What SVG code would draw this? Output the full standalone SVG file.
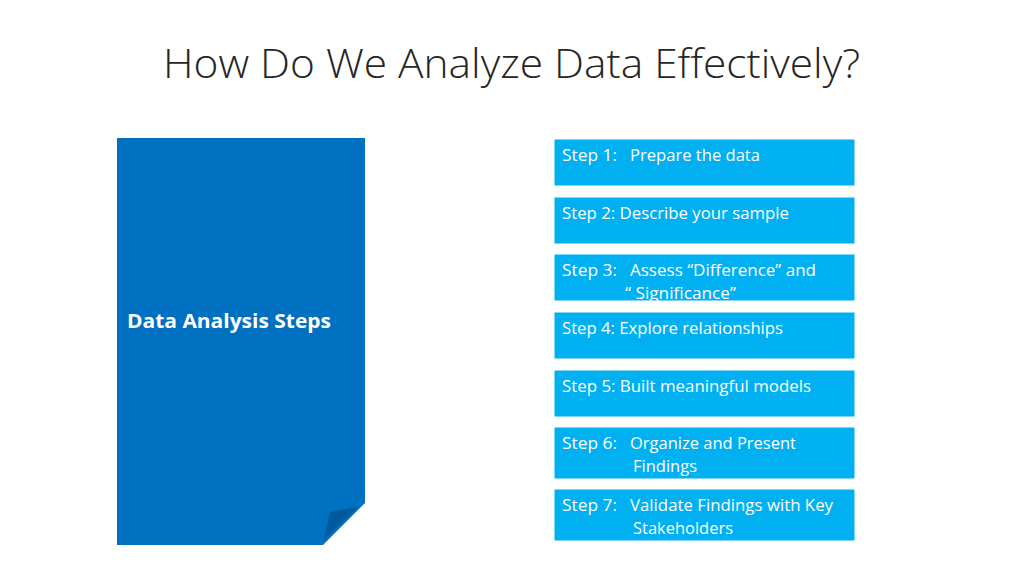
<svg xmlns="http://www.w3.org/2000/svg" width="1024" height="576" viewBox="0 0 1024 576">
<style>
.title{font-family:"Open Sans","Liberation Sans",sans-serif;font-weight:300;font-size:40px;fill:#262626}
.box{fill:#00B0F0;stroke:#ffffff;stroke-width:1}
.st{font-family:"Open Sans","Liberation Sans",sans-serif;font-size:15.5px;fill:#ffffff}
.main{font-family:"Open Sans","Liberation Sans",sans-serif;font-weight:bold;font-size:20px;fill:#ffffff}
</style>
<rect width="1024" height="576" fill="#ffffff"/>
<text class="title" x="163" y="78" textLength="697" lengthAdjust="spacingAndGlyphs">How Do We Analyze Data Effectively?</text>
<g id="main">
<polygon points="117,138 365,138 365,503 323,545 117,545" fill="#0070C0"/>
<polygon points="330,512 358,507 324,540" fill="#005A9E"/>
<text class="main" x="127" y="328" textLength="204" lengthAdjust="spacingAndGlyphs">Data Analysis Steps</text>
</g>
<g id="step1"><rect class="box" x="554" y="139" width="301" height="47"/><text class="st" x="562" y="161" textLength="55" lengthAdjust="spacingAndGlyphs">Step 1:</text><text class="st" x="630" y="161" textLength="130" lengthAdjust="spacingAndGlyphs">Prepare the data</text></g>
<g id="step2"><rect class="box" x="554" y="197" width="301" height="47"/><text class="st" x="562" y="219" textLength="227" lengthAdjust="spacingAndGlyphs">Step 2: Describe your sample</text></g>
<g id="step3"><rect class="box" x="554" y="254" width="301" height="47"/><text class="st" x="562" y="276" textLength="55" lengthAdjust="spacingAndGlyphs">Step 3:</text><text class="st" x="630" y="276" textLength="186" lengthAdjust="spacingAndGlyphs">Assess “Difference” and</text><text class="st" x="625" y="299" textLength="111" lengthAdjust="spacingAndGlyphs">“ Significance”</text></g>
<g id="step4"><rect class="box" x="554" y="312" width="301" height="47"/><text class="st" x="562" y="334" textLength="221" lengthAdjust="spacingAndGlyphs">Step 4: Explore relationships</text></g>
<g id="step5"><rect class="box" x="554" y="370" width="301" height="47"/><text class="st" x="562" y="392" textLength="249" lengthAdjust="spacingAndGlyphs">Step 5: Built meaningful models</text></g>
<g id="step6"><rect class="box" x="554" y="427" width="301" height="52"/><text class="st" x="562" y="449" textLength="55" lengthAdjust="spacingAndGlyphs">Step 6:</text><text class="st" x="630" y="449" textLength="166" lengthAdjust="spacingAndGlyphs">Organize and Present</text><text class="st" x="633" y="472" textLength="64" lengthAdjust="spacingAndGlyphs">Findings</text></g>
<g id="step7"><rect class="box" x="554" y="489" width="301" height="52"/><text class="st" x="562" y="511" textLength="55" lengthAdjust="spacingAndGlyphs">Step 7:</text><text class="st" x="630" y="511" textLength="203" lengthAdjust="spacingAndGlyphs">Validate Findings with Key</text><text class="st" x="633" y="534" textLength="100" lengthAdjust="spacingAndGlyphs">Stakeholders</text></g>
<g id="connectors"/>
</svg>
